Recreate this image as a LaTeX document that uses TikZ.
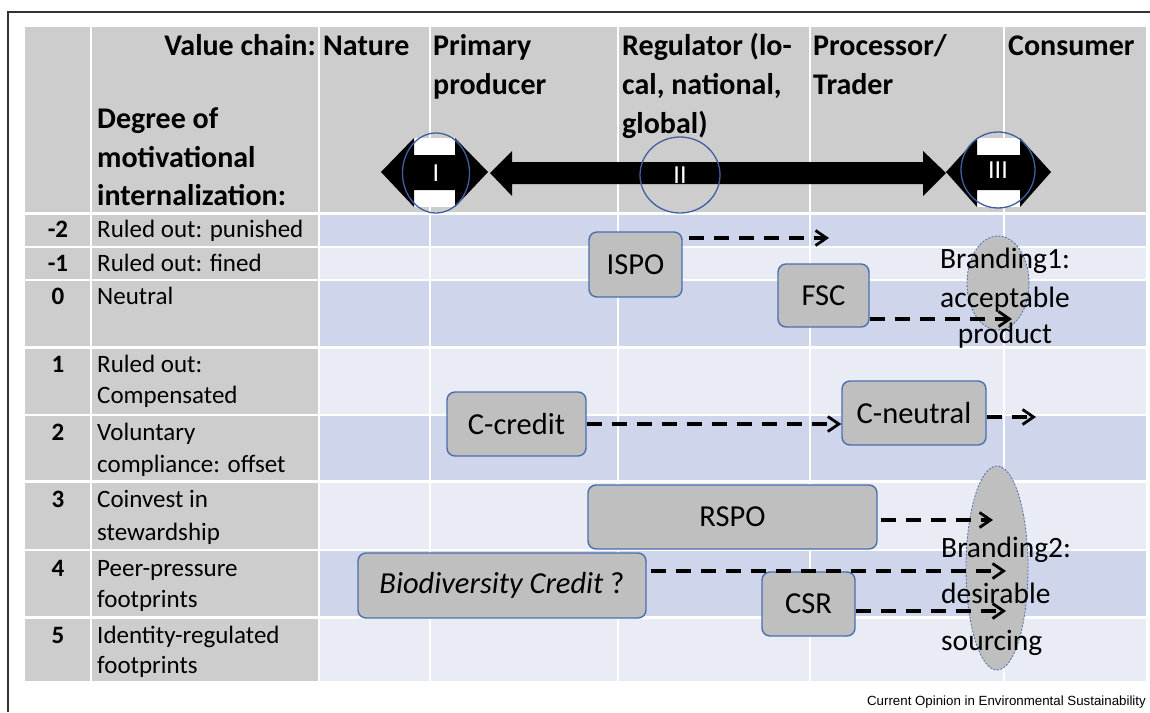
\documentclass[tikz,border=0pt]{standalone}
\usepackage{fontspec}
\setmainfont{Carlito}
\newfontfamily\notefont{Liberation Sans}
\usetikzlibrary{arrows.meta,shapes.geometric}

\definecolor{hdrgray}{HTML}{CDCDCD}
\definecolor{bandDark}{HTML}{CFD5EA}
\definecolor{bandLight}{HTML}{E9EBF5}
\definecolor{boxgray}{HTML}{BFBFBF}
\definecolor{boxblue}{HTML}{4A6FAE}
\definecolor{ringblue}{HTML}{3F5F9F}
\definecolor{framegray}{HTML}{333333}

\begin{document}
\begin{tikzpicture}[x=1pt,y=-1pt,
  hdr/.style={font=\fontsize{30}{39}\selectfont\bfseries, inner sep=0},
  lbl/.style={font=\fontsize{25}{32}\selectfont, inner sep=0, anchor=base west},
  num/.style={font=\fontsize{25}{32}\selectfont\bfseries, inner sep=0, anchor=base},
  pbox/.style={rounded corners=8pt, fill=boxgray, draw=boxblue, line width=1.4pt,
    font=\fontsize{30.5}{36}\selectfont, inner sep=0},
  flow/.style={line width=4pt, dash pattern=on 15pt off 10pt,
    -{Straight Barb[length=11pt,width=15pt,line width=2.8pt]}},
  brand/.style={ellipse, fill=boxgray, draw=boxblue, line width=0.8pt,
    dash pattern=on 2pt off 1.5pt, inner sep=0},
  brandtxt/.style={font=\fontsize{29.5}{36}\selectfont, inner sep=0},
  ring/.style={ellipse, draw=ringblue, line width=1.3pt, inner sep=0,
    text=white, font=\fontsize{26}{28}\selectfont},
  grid/.style={white, line width=2.5pt}
]
\useasboundingbox (0,0) rectangle (1150,712);
\fill[white] (0,0) rectangle (1150,712);

% frame
\draw[framegray, line width=1.5pt] (8,712) -- (8,12) -- (1150,12);

% table background
\fill[hdrgray] (25,27) rectangle (1146,213);
\fill[hdrgray] (25,213) rectangle (319,681);
\foreach \ya/\yb/\c in {213/247/bandDark, 247/280/bandLight, 280/347.5/bandDark,
  347.5/415/bandLight, 415/481.5/bandDark, 481.5/550/bandLight,
  550/617.5/bandDark, 617.5/681/bandLight}
  \fill[\c] (319,\ya) rectangle (1146,\yb);

% grid lines
\foreach \x in {91,319,430,618,810,1004}
  \draw[grid] (\x,27) -- (\x,681);
\draw[white, line width=3pt] (25,213) -- (1146,213);
\foreach \y in {247,280,347.5,415,481.5,550,617.5}
  \draw[grid] (25,\y) -- (1146,\y);

% header
\node[hdr, anchor=base east] (vc) at (316,55) {Value chain:};
\node[hdr, anchor=base west] (nat) at (323,55) {Nature};
\node[hdr, anchor=base west] (pp1) at (433,55) {Primary};
\node[hdr, anchor=base west] (pp2) at (433,94) {producer};
\node[hdr, anchor=base west] (rg1) at (622,55) {Regulator (lo-};
\node[hdr, anchor=base west] (rg2) at (622,94) {cal, national,};
\node[hdr, anchor=base west] (rg3) at (622,133) {global)};
\node[hdr, anchor=base west] (pt1) at (813,55) {Processor/};
\node[hdr, anchor=base west] (pt2) at (813,94) {Trader};
\node[hdr, anchor=base west] (con) at (1008,55) {Consumer};
\node[hdr, anchor=base west] (dg1) at (97,128) {Degree of};
\node[hdr, anchor=base west] (dg2) at (97,167) {motivational};
\node[hdr, anchor=base west] (dg3) at (97,205) {internalization:};

% scale of internalization
\node[num] (n1) at (58,237) {-2};
\node[lbl] (l1) at (97,237) {Ruled out: punished};
\node[num] (n2) at (58,271) {-1};
\node[lbl] (l2) at (97,271) {Ruled out: fined};
\node[num] (n3) at (58,304) {0};
\node[lbl] (l3) at (97,304) {Neutral};
\node[num] (n4) at (58,372) {1};
\node[lbl] (l4a) at (97,372) {Ruled out:};
\node[lbl] (l4b) at (97,403) {Compensated};
\node[num] (n5) at (58,440) {2};
\node[lbl] (l5a) at (97,440) {Voluntary};
\node[lbl] (l5b) at (97,472) {compliance: offset};
\node[num] (n6) at (58,507) {3};
\node[lbl] (l6a) at (97,507) {Coinvest in};
\node[lbl] (l6b) at (97,540) {stewardship};
\node[num] (n7) at (58,576) {4};
\node[lbl] (l7a) at (97,576) {Peer-pressure};
\node[lbl] (l7b) at (97,607) {footprints};
\node[num] (n8) at (58,643) {5};
\node[lbl] (l8a) at (97,643) {Identity-regulated};
\node[lbl] (l8b) at (97,673) {footprints};

% double arrows along the value chain
\fill[white] (414,138) rectangle (455,207);
\fill[black] (381,172) -- (414,138) -- (414,155) -- (455,155) -- (455,138)
  -- (488,172) -- (455,207) -- (455,190) -- (414,190) -- (414,207) -- cycle;
\fill[black] (490,173) -- (512,151) -- (512,162) -- (923,162) -- (923,151)
  -- (946,173) -- (923,196) -- (923,184) -- (512,184) -- (512,196) -- cycle;
\fill[white] (977,138) rectangle (1020,207);
\fill[black] (946,172) -- (977,138) -- (977,155) -- (1020,155) -- (1020,138)
  -- (1051,172) -- (1020,207) -- (1020,190) -- (977,190) -- (977,207) -- cycle;

\node[ring, minimum width=67pt, minimum height=80pt] (ring1) at (436,173) {I};
\node[ring, minimum width=80pt, minimum height=76pt] (ring2) at (680,175) {II};
\node[ring, minimum width=74pt, minimum height=76pt] (ring3) at (998,170) {III};

% branding zones
\node[brand, minimum width=62pt, minimum height=94pt] (brand1) at (998,283) {};
\node[brand, minimum width=62pt, minimum height=204pt] (brand2) at (997,568) {};

% instruments
\node[pbox, minimum width=93pt, minimum height=65pt] (ispo) at (635.5,264.5) {ISPO};
\node[pbox, minimum width=91pt, minimum height=63pt] (fsc) at (823.5,295.5) {FSC};
\node[pbox, minimum width=139pt, minimum height=64pt] (ccredit) at (516.5,424) {C-credit};
\node[pbox, minimum width=144pt, minimum height=64pt] (cneutral) at (914,413) {C-neutral};
\node[pbox, minimum width=289pt, minimum height=64pt] (rspo) at (732.5,517) {RSPO};
\node[pbox, minimum width=288pt, minimum height=65pt] (bio) at (502,585.5) {\itshape Biodiversity Credit\upshape\ ?};
\node[pbox, minimum width=93pt, minimum height=64pt] (csr) at (808.5,604) {CSR};

% flows towards the consumer
\coordinate (ispoEnd) at (829,238);
\coordinate (fscEnd) at (1012,319);
\coordinate (cnEnd) at (1036,417);
\coordinate (rspoEnd) at (993,520);
\coordinate (bioEnd) at (1006,571);
\coordinate (csrEnd) at (1006,611);
\draw[flow, shorten <=6pt] (ispo.east |- ispoEnd) -- (ispoEnd);
\draw[flow] (fsc.east |- fscEnd) -- (fscEnd);
\draw[flow] (ccredit.east) -- (ccredit.east -| cneutral.west);
\draw[flow] (cneutral.east |- cnEnd) -- (cnEnd);
\draw[flow, shorten <=3pt] (rspo.east |- rspoEnd) -- (rspoEnd);
\draw[flow, shorten <=4pt] (bio.east |- bioEnd) -- (bioEnd);
\draw[flow] (csr.east |- csrEnd) -- (csrEnd);

% branding labels
\node[brandtxt, anchor=base] (b1a) at (1005,268) {Branding1:};
\node[brandtxt, anchor=base] (b1b) at (1005,307) {acceptable};
\node[brandtxt, anchor=base] (b1c) at (1005,343) {product};
\node[brandtxt, anchor=base west] (b2a) at (941,557) {Branding2:};
\node[brandtxt, anchor=base west] (b2b) at (941,603) {desirable};
\node[brandtxt, anchor=base west] (b2c) at (941,650) {sourcing};

% source line
\node[font=\notefont\fontsize{13.3}{15}\selectfont, inner sep=0, anchor=base east]
  (src) at (1146,705) {Current Opinion in Environmental Sustainability};
\end{tikzpicture}
\end{document}
